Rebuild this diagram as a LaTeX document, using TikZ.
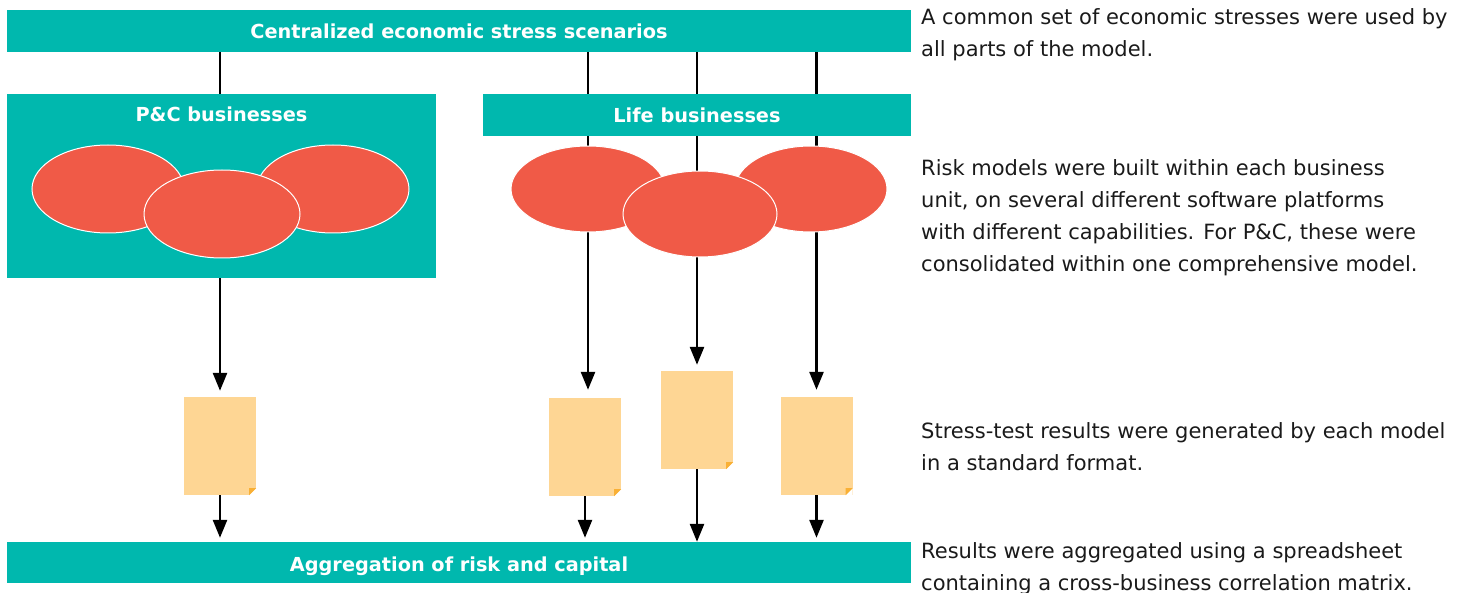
\documentclass[tikz,border=0pt]{standalone}
\usepackage{fontspec}
\setmainfont{DejaVu Sans}
\usetikzlibrary{shapes.geometric,arrows.meta,backgrounds}
\definecolor{teal1}{HTML}{00B8AE}
\definecolor{salmon}{HTML}{F05A47}
\definecolor{paper}{HTML}{FED694}
\definecolor{foldc}{HTML}{F9B035}
\definecolor{txt}{HTML}{1A1A1A}
\begin{document}
\begin{tikzpicture}[x=1pt,y=-1pt,
  bar/.style={fill=teal1, inner sep=0pt, text=white, font=\bfseries\fontsize{19.3}{22}\selectfont, text height=15pt, text depth=0pt},
  blob/.style={ellipse, fill=salmon, draw=white, line width=1pt, inner sep=0pt},
  doc/.style={fill=paper, inner sep=0pt, minimum width=72pt, minimum height=98pt},
  desc/.style={anchor=base west, inner sep=0pt, text=txt, font=\fontsize{21}{32}\selectfont},
  link/.style={line width=2.6pt, black},
  arr/.style={link, -{Triangle[length=18pt,width=14pt]}}]

\useasboundingbox (0,0) rectangle (1466,593);

% bars and boxes
\node[bar, minimum width=904pt, minimum height=42pt] (top) at (459,31) {Centralized economic stress scenarios};
\node[fill=teal1, minimum width=429pt, minimum height=184pt, inner sep=0pt] (pc) at (221.5,186) {};
\node[anchor=base, inner sep=0pt, text=white, font=\bfseries\fontsize{19.3}{22}\selectfont] (pclabel) at (221.5,122) {P\&C businesses};
\node[bar, minimum width=428pt, minimum height=42pt] (life) at (697,115) {Life businesses};
\node[bar, minimum width=904pt, minimum height=41pt, text height=17pt, text depth=0pt] (agg) at (459,562.5) {Aggregation of risk and capital};

% P&C models
\node[blob, minimum width=152pt, minimum height=88pt] (pe1) at (108,189) {};
\node[blob, minimum width=152pt, minimum height=88pt] (pe2) at (333,189) {};
\node[blob, minimum width=156pt, minimum height=88pt] (pe3) at (222,214) {};

% Life models
\node[blob, minimum width=154pt, minimum height=86pt] (le1) at (588,189) {};
\node[blob, minimum width=152pt, minimum height=86pt] (le2) at (811,189) {};
\node[blob, minimum width=154pt, minimum height=86pt] (le3) at (700,214) {};

% result documents
\node[doc] (d1) at (220,446) {};
\node[doc] (d2) at (585,447) {};
\node[doc] (d3) at (697,420) {};
\node[doc] (d4) at (816.5,446) {};
\foreach \d in {d1,d2,d3,d4}{
  \fill[white] ([xshift=-7pt]\d.south east) -- (\d.south east) -- ([yshift=7pt]\d.south east) -- cycle;
  \fill[foldc] ([xshift=-7pt]\d.south east) -- ([yshift=7pt]\d.south east) -- ([xshift=-7pt,yshift=7pt]\d.south east) -- cycle;
}

% connectors
\begin{scope}[on background layer]
  \draw[link] (top.south -| d1) -- (pc.north -| d1);
  \draw[arr, shorten >=6pt] (pc.south -| d1) -- (d1.north);
  \draw[arr, shorten >=4pt] (d1.south) -- (agg.north -| d1);

  \draw[link] (top.south -| le1) -- (life.north -| le1);
  \draw[arr, shorten >=8pt] (life.south -| le1) -- (d2.north -| le1);
  \draw[arr, shorten >=4pt] (d2.south) -- (agg.north -| d2);

  \draw[link] (top.south -| d3) -- (life.north -| d3);
  \draw[arr, shorten >=6pt] (life.south -| d3) -- (d3.north);
  \draw[arr] (d3.south) -- (agg.north -| d3);

  \draw[link] (top.south -| d4) -- (life.north -| d4);
  \draw[arr, shorten >=7pt] (life.south -| d4) -- (d4.north);
  \draw[arr, shorten >=4pt] (d4.south) -- (agg.north -| d4);
\end{scope}

% descriptions
\node[desc] (t1a) at (921,25) {A common set of economic stresses were used by};
\node[desc] (t1b) at (921,57) {all parts of the model.};
\node[desc] (t2a) at (921,176) {Risk models were built within each business};
\node[desc] (t2b) at (921,208) {unit, on several different software platforms};
\node[desc] (t2c) at (921,240) {with different capabilities. For P\&C, these were};
\node[desc] (t2d) at (921,272) {consolidated within one comprehensive model.};
\node[desc] (t3a) at (921,438) {Stress-test results were generated by each model};
\node[desc] (t3b) at (921,470) {in a standard format.};
\node[desc] (t4a) at (921,558) {Results were aggregated using a spreadsheet};
\node[desc] (t4b) at (921,590) {containing a cross-business correlation matrix.};
\end{tikzpicture}
\end{document}
